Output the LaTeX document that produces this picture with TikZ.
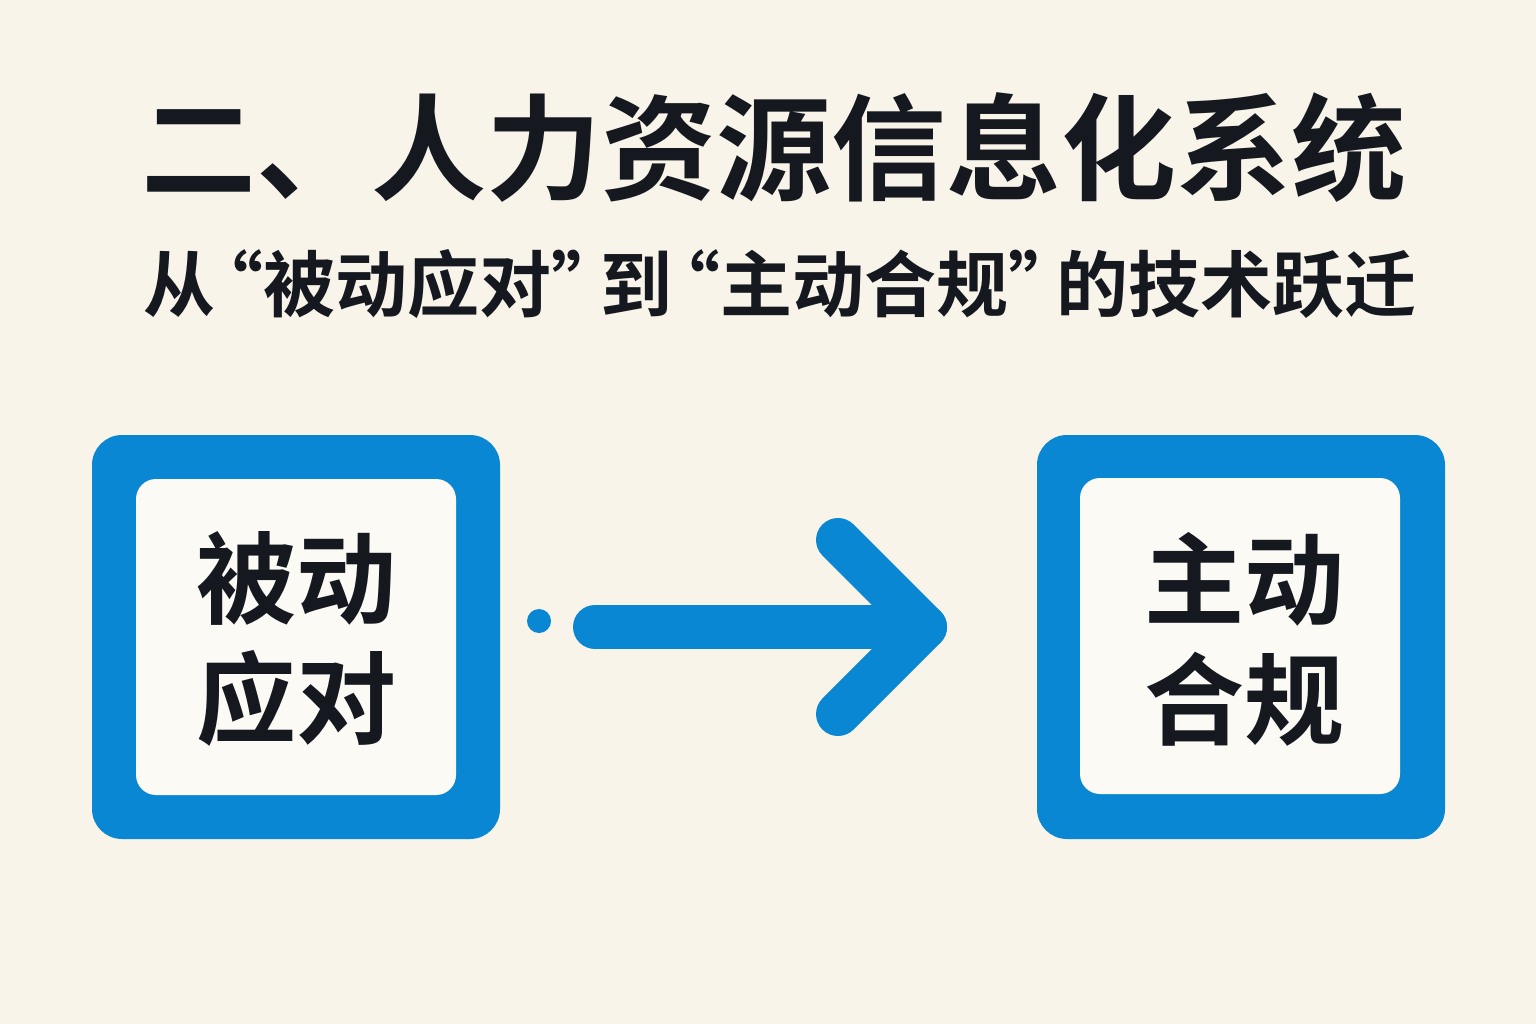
\documentclass[tikz,border=0pt]{standalone}
\usepackage{fontspec}
\usepackage{tikz}
\usetikzlibrary{positioning}
\newfontfamily\cjk{Noto Sans CJK SC Bold}

\definecolor{paper}{RGB}{248,244,234}
\definecolor{hrblue}{RGB}{10,135,210}
\definecolor{inkdark}{RGB}{21,25,31}
\definecolor{cardwhite}{RGB}{251,250,245}

\newcommand{\openq}{\hspace{-0.33em}“}
\newcommand{\closeq}{”\hspace{-0.33em}}

\tikzset{
  outerbox/.style={rectangle, rounded corners=30pt, fill=hrblue, minimum width=408pt, minimum height=404pt, inner sep=0pt},
  innerbox/.style={rectangle, rounded corners=20pt, fill=cardwhite, minimum width=320pt, minimum height=316pt, inner sep=0pt},
  boxtext/.style={text=inkdark, align=center, inner sep=0pt, font=\cjk\fontsize{100}{120}\selectfont},
  arrowline/.style={draw=hrblue, line width=44pt, line cap=round, line join=round}
}

\begin{document}
\begin{tikzpicture}[x=1pt, y=-1pt]
    \fill[paper] (0,0) rectangle (1536,1024);
    \useasboundingbox (0,0) rectangle (1536,1024);

    \node[text=inkdark, inner sep=0pt, font=\cjk\fontsize{115}{120}\selectfont] (title) at (774,148) {二、人力资源信息化系统};
    \node[text=inkdark, inner sep=0pt, font=\cjk\fontsize{72}{80}\selectfont] (subtitle) at (780,284) {从\openq 被动应对\closeq 到\openq 主动合规\closeq 的技术跃迁};

    \node[outerbox] (oldframe) at (296,637) {};
    \node[innerbox] (oldcard) at (296,637) {};
    \node[boxtext] (oldtext) at (296,639) {被动\\应对};

    \node[outerbox] (newframe) at (1241,637) {};
    \node[innerbox] (newcard) at (1240,636) {};
    \node[boxtext] (newtext) at (1244,639) {主动\\合规};

    \node[circle, fill=hrblue, minimum size=24pt, inner sep=0pt] (dot) at (539,621) {};
    \coordinate (shaft) at (595,627);
    \coordinate (tip) at (925,627);
    \coordinate (armtop) at (838,540);
    \coordinate (armbot) at (838,714);
    \draw[arrowline] (shaft) -- (tip);
    \draw[arrowline] (armtop) -- (tip) -- (armbot);
  \end{tikzpicture}
\end{document}
